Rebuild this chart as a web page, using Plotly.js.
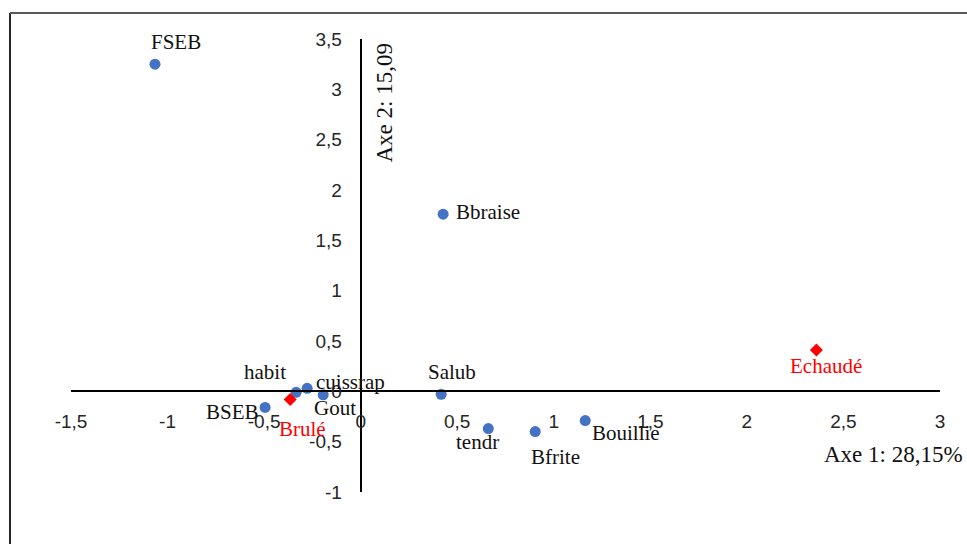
<!DOCTYPE html>
<html>
<head>
<meta charset="utf-8">
<script src="https://cdn.plot.ly/plotly-3.0.1.min.js"></script>
<style>html,body{margin:0;padding:0;background:#fff;}#chart{width:967px;height:544px;}</style>
</head>
<body>
<div id="chart"></div>
<script>
// Variables (blue points)
const varNames = ['FSEB','Bbraise','habit','cuissrap','Gout','BSEB','Salub','tendr','Bfrite','Bouillie'];
const varX = [-1.065, 0.427, -0.334, -0.277, -0.194, -0.495, 0.417, 0.661, 0.904, 1.163];
const varY = [3.25, 1.76, -0.01, 0.03, -0.035, -0.16, -0.03, -0.37, -0.40, -0.29];

// Groups (red diamonds)
const grpNames = ['Brulé','Echaudé'];
const grpX = [-0.365, 2.36];
const grpY = [-0.08, 0.41];

// Axis ranges and tick labels
const xRange = [-1.5, 3];
const yRange = [-1, 3.5];
const xTicks = [-1.5, -1, -0.5, 0, 0.5, 1, 1.5, 2, 2.5, 3];
const yTicks = [-1, -0.5, 0, 0.5, 1, 1.5, 2, 2.5, 3, 3.5];
const xTitle = 'Axe 1: 28,15%';
const yTitle = 'Axe 2: 15,09';

// label offsets in pixels (style)
const varOff = {
  'FSEB':[21,22], 'Bbraise':[45,2], 'habit':[-31,20], 'cuissrap':[43,6], 'Gout':[12,-13],
  'BSEB':[-33,-5], 'Salub':[11,22], 'tendr':[-11,-13], 'Bfrite':[20,-25], 'Bouillie':[41,-12]
};
const grpOff = {'Brulé':[12,-30], 'Echaudé':[10,-16]};

const serif = '"Liberation Serif", "Times New Roman", serif';
const sans = '"Liberation Sans", Arial, sans-serif';

const traces = [
  {x: varX, y: varY, mode: 'markers', type: 'scatter', name: 'Variables',
   marker: {color: '#4472C4', size: 11, symbol: 'circle'}, hoverinfo: 'text', text: varNames, cliponaxis: false},
  {x: grpX, y: grpY, mode: 'markers', type: 'scatter', name: 'Groupes',
   marker: {color: '#FF0000', size: 10, symbol: 'diamond'}, hoverinfo: 'text', text: grpNames, cliponaxis: false}
];

const annotations = [];
varNames.forEach((n, i) => {
  annotations.push({x: varX[i], y: varY[i], xref: 'x', yref: 'y', text: n, showarrow: false,
    xanchor: 'center', yanchor: 'middle',
    xshift: varOff[n][0], yshift: varOff[n][1], font: {family: serif, size: 21, color: '#111'}});
});
grpNames.forEach((n, i) => {
  annotations.push({x: grpX[i], y: grpY[i], xref: 'x', yref: 'y', text: n, showarrow: false,
    xanchor: 'center', yanchor: 'middle',
    xshift: grpOff[n][0], yshift: grpOff[n][1], font: {family: serif, size: 21, color: '#FF0000'}});
});
annotations.push({x: 0.361, y: 0.859, xref: 'paper', yref: 'paper', text: yTitle, textangle: -90,
  xanchor: 'center', yanchor: 'middle',
  showarrow: false, font: {family: serif, size: 23, color: '#111'}});
annotations.push({x: 0.947, y: 0.082, xref: 'paper', yref: 'paper', text: xTitle,
  xanchor: 'center', yanchor: 'middle',
  showarrow: false, font: {family: serif, size: 23, color: '#111'}});

const fmt = v => String(v).replace('.', ',');

const layout = {
  width: 967, height: 544,
  margin: {l: 71, r: 27, t: 39, b: 52},
  paper_bgcolor: '#fff', plot_bgcolor: '#fff',
  showlegend: false,
  separators: ', ',
  xaxis: {range: xRange, anchor: 'free', position: (0 - yRange[0]) / (yRange[1] - yRange[0]),
    showgrid: false, zeroline: false, showline: true, linecolor: '#000', linewidth: 2,
    ticks: '', tickmode: 'array', tickvals: xTicks, ticktext: xTicks.map(fmt),
    ticklabelstandoff: 13,
    tickfont: {family: sans, size: 19, color: '#262626'}},
  yaxis: {range: yRange, anchor: 'free', position: (0 - xRange[0]) / (xRange[1] - xRange[0]),
    showgrid: false, zeroline: false, showline: true, linecolor: '#000', linewidth: 2,
    ticks: '', tickmode: 'array', tickvals: yTicks, ticktext: yTicks.map(fmt),
    ticklabelstandoff: 14,
    tickfont: {family: sans, size: 19, color: '#262626'}},
  shapes: [
    {type: 'line', xref: 'paper', yref: 'paper', x0: -0.0702, x1: -0.0702, y0: -0.2, y1: 1.0574,
     line: {color: '#262626', width: 2}},
    {type: 'line', xref: 'paper', yref: 'paper', x0: -0.0702, x1: 1.1, y0: 1.0574, y1: 1.0574,
     line: {color: '#595959', width: 2}}
  ],
  annotations: annotations
};

Plotly.newPlot('chart', traces, layout, {staticPlot: true, displayModeBar: false});
</script>
</body>
</html>
